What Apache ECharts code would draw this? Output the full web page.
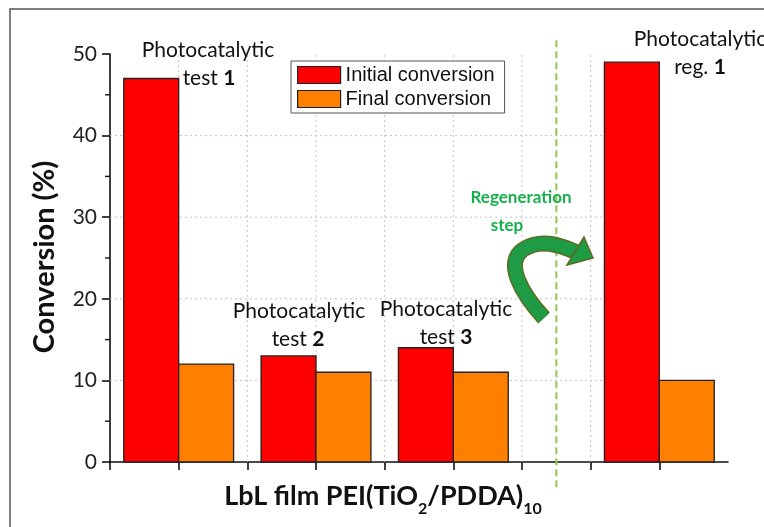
<!DOCTYPE html>
<html>
<head>
<meta charset="utf-8">
<script src="https://cdn.jsdelivr.net/npm/echarts@6/dist/echarts.min.js"></script>
<style>
html,body{margin:0;padding:0;background:#fff;}
#chart{width:764px;height:527px;}
</style>
</head>
<body>
<div id="chart"></div>
<script>
// ---- data ----
const groupNames = ['Photocatalytic test 1', 'Photocatalytic test 2', 'Photocatalytic test 3', 'Photocatalytic reg. 1'];
const initialConversion = [47, 13, 14, 49];
const finalConversion = [12, 11, 11, 10];
const seriesNames = ['Initial conversion', 'Final conversion'];
const yTickValues = [0, 10, 20, 30, 40, 50];
const yMinorTickValues = [5, 15, 25, 35, 45];
// layout: slot where each group starts on the x axis (regeneration gap before the last group)
const groupSlot = [0, 2, 4, 7];
const regenerationSlot = 6.5;
const xGridValues = [1, 2, 3, 4, 5, 6, 7];

const chart = echarts.init(document.getElementById('chart'), null, {renderer: 'canvas'});

const calibriLike = 'Lato';
const BAR_W = 0.8;

function barRenderer(offset, color) {
  return function (params, api) {
    const s = api.value(0), v = api.value(1);
    const p0 = api.coord([s + offset, v]);
    const p1 = api.coord([s + offset + BAR_W, 0]);
    return {
      type: 'rect',
      shape: {x: p0[0], y: p0[1], width: p1[0] - p0[0], height: p1[1] - p0[1]},
      style: {fill: color, stroke: '#222', lineWidth: 1.3}
    };
  };
}

const gridStyle = {stroke: '#c4c4c4', lineWidth: 1, lineDash: [2, 3]};

const arrowStroke = (z, color, w) => ([
  {type: 'bezierCurve', z: z, shape: {x1: 544, y1: 318, cpx1: 522, cpy1: 294, cpx2: 503, cpy2: 262, x2: 524, y2: 249},
    style: {fill: 'none', stroke: color, lineWidth: w, lineCap: 'butt'}},
  {type: 'bezierCurve', z: z, shape: {x1: 524, y1: 249, cpx1: 540, cpy1: 239, cpx2: 558, cpy2: 244, x2: 576, y2: 252},
    style: {fill: 'none', stroke: color, lineWidth: w, lineCap: 'butt'}}
]);

const option = {
  animation: false,
  backgroundColor: '#fff',
  grid: {left: 110, right: 36, top: 54, bottom: 65},
  xAxis: {
    type: 'value', min: 0, max: 9, interval: 1,
    axisLine: {show: true, onZero: false, lineStyle: {color: '#111', width: 1.6}},
    axisTick: {show: true, length: 8, lineStyle: {color: '#111', width: 1.6}, customValues: [0,1,2,3,4,5,6,7,8]},
    axisLabel: {show: false},
    splitLine: {show: false}
  },
  yAxis: {
    type: 'value', min: yTickValues[0], max: yTickValues[yTickValues.length - 1], interval: 10,
    axisLine: {show: true, lineStyle: {color: '#111', width: 1.6}},
    axisTick: {show: true, length: 8, lineStyle: {color: '#111', width: 1.6}},
    minorTick: {show: false},
    axisLabel: {fontFamily: calibriLike, fontSize: 21, color: '#222', margin: 13},
    splitLine: {show: false}
  },
  legend: {
    orient: 'vertical', left: 291, top: 61,
    data: seriesNames,
    icon: 'rect', itemWidth: 43, itemHeight: 17, itemGap: 4,
    padding: [4, 10, 4, 6],
    borderColor: '#555', borderWidth: 1, backgroundColor: '#fff',
    itemStyle: {borderColor: '#222', borderWidth: 1.2},
    textStyle: {fontFamily: 'Liberation Sans', fontSize: 20, color: '#111'}
  },
  series: [
    {
      name: 'hgrid', type: 'custom', z: 1, silent: true,
      encode: {x: 0, y: 1},
      data: yTickValues.filter(v => v > 0 && v < 50).map(v => [0, v]),
      renderItem: function (p, api) {
        const v = api.value(1);
        const a = api.coord([0, v]);
        const b = api.coord([groupSlot[3] + 0.2, v]);
        return {type: 'line', shape: {x1: a[0], y1: a[1], x2: b[0], y2: b[1]}, style: gridStyle};
      }
    },
    {
      name: 'vgrid', type: 'custom', z: 1, silent: true,
      encode: {x: 0, y: 1},
      data: xGridValues.map(x => [x, 0]),
      renderItem: function (p, api) {
        const x = api.value(0);
        const a = api.coord([x, 0]);
        const b = api.coord([x, 50]);
        return {type: 'line', shape: {x1: a[0], y1: a[1], x2: b[0], y2: b[1]}, style: gridStyle};
      }
    },
    {
      name: 'minorTicks', type: 'custom', z: 4, silent: true, clip: false,
      encode: {x: 0, y: 1},
      data: yMinorTickValues.map(v => [0, v]),
      renderItem: function (p, api) {
        const a = api.coord([0, api.value(1)]);
        return {type: 'line', shape: {x1: a[0] - 5, y1: a[1], x2: a[0], y2: a[1]}, style: {stroke: '#111', lineWidth: 1.4}};
      }
    },
    {
      name: seriesNames[0], type: 'custom', z: 3,
      itemStyle: {color: '#ff0000', borderColor: '#222', borderWidth: 1.2},
      encode: {x: 0, y: 1},
      data: initialConversion.map((v, i) => [groupSlot[i], v]),
      renderItem: barRenderer(0.2, '#ff0000')
    },
    {
      name: seriesNames[1], type: 'custom', z: 3,
      itemStyle: {color: '#ff8000', borderColor: '#222', borderWidth: 1.2},
      encode: {x: 0, y: 1},
      data: finalConversion.map((v, i) => [groupSlot[i], v]),
      renderItem: barRenderer(1.0, '#ff8000')
    },
    {
      name: 'regen', type: 'custom', z: 5, silent: true, clip: false,
      encode: {x: 0, y: 1},
      data: [[regenerationSlot, 0]],
      renderItem: function (p, api) {
        const x = api.value(0);
        const a = api.coord([x, 51.7]);
        const b = api.coord([x, -3.1]);
        return {type: 'line', shape: {x1: a[0], y1: a[1], x2: b[0], y2: b[1]},
          style: {stroke: '#92c74f', lineWidth: 2, lineDash: [7, 4]}};
      }
    }
  ],
  graphic: [
    {type: 'rect', z: 0, shape: {x: 10, y: 9, width: 900, height: 700}, style: {fill: 'none', stroke: '#555', lineWidth: 1.5}},
    // y axis title
    {type: 'text', z: 10, x: 45, y: 257, rotation: Math.PI / 2,
      style: {text: 'Conversion (%)', fontFamily: calibriLike, fontWeight: 'bold', fontSize: 29, fill: '#111', align: 'center', verticalAlign: 'middle'}},
    // x axis title
    {type: 'text', z: 10, x: 383, y: 496,
      style: {text: '{a|LbL film PEI(TiO}{s|2}{a|/PDDA)}{s|10}', align: 'center', verticalAlign: 'middle', fill: '#111',
        rich: {
          a: {fontFamily: calibriLike, fontWeight: 'bold', fontSize: 27, fill: '#111'},
          s: {fontFamily: calibriLike, fontWeight: 'bold', fontSize: 16, fill: '#111', padding: [26, 0, 0, 0]}
        }}},
    // annotations
    {type: 'text', z: 10, x: 208, y: 50, style: {text: 'Photocatalytic', fontFamily: calibriLike, fontSize: 21, fill: '#111', align: 'center', verticalAlign: 'middle'}},
    {type: 'text', z: 10, x: 209, y: 78, style: {text: 'test {b|1}', fontFamily: calibriLike, fontSize: 21, fill: '#111', align: 'center', verticalAlign: 'middle', rich: {b: {fontFamily: calibriLike, fontSize: 21, fontWeight: 'bold', fill: '#111'}}}},
    {type: 'text', z: 10, x: 299, y: 311, style: {text: 'Photocatalytic', fontFamily: calibriLike, fontSize: 21, fill: '#111', align: 'center', verticalAlign: 'middle'}},
    {type: 'text', z: 10, x: 298, y: 339, style: {text: 'test {b|2}', fontFamily: calibriLike, fontSize: 21, fill: '#111', align: 'center', verticalAlign: 'middle', rich: {b: {fontFamily: calibriLike, fontSize: 21, fontWeight: 'bold', fill: '#111'}}}},
    {type: 'text', z: 10, x: 446, y: 309, style: {text: 'Photocatalytic', fontFamily: calibriLike, fontSize: 21, fill: '#111', align: 'center', verticalAlign: 'middle'}},
    {type: 'text', z: 10, x: 446, y: 337, style: {text: 'test {b|3}', fontFamily: calibriLike, fontSize: 21, fill: '#111', align: 'center', verticalAlign: 'middle', rich: {b: {fontFamily: calibriLike, fontSize: 21, fontWeight: 'bold', fill: '#111'}}}},
    {type: 'text', z: 10, x: 700, y: 39, style: {text: 'Photocatalytic', fontFamily: calibriLike, fontSize: 21, fill: '#111', align: 'center', verticalAlign: 'middle'}},
    {type: 'text', z: 10, x: 700, y: 67, style: {text: 'reg. {b|1}', fontFamily: calibriLike, fontSize: 21, fill: '#111', align: 'center', verticalAlign: 'middle', rich: {b: {fontFamily: calibriLike, fontSize: 21, fontWeight: 'bold', fill: '#111'}}}},
    // regeneration step
    {type: 'text', z: 10, x: 521, y: 198, style: {text: 'Regeneration', fontFamily: calibriLike, fontWeight: 'bold', fontSize: 17, fill: '#17b04c', align: 'center', verticalAlign: 'middle'}},
    {type: 'text', z: 10, x: 507, y: 226, style: {text: 'step', fontFamily: calibriLike, fontWeight: 'bold', fontSize: 17, fill: '#17b04c', align: 'center', verticalAlign: 'middle'}}
  ].concat(arrowStroke(8, '#5d6b22', 16), arrowStroke(9, '#1f9a45', 13), [
    {type: 'polygon', z: 9, shape: {points: [[584, 237], [593, 258], [567, 265]]},
      style: {fill: '#1f9a45', stroke: '#5d6b22', lineWidth: 1.5}}
  ])
};
chart.setOption(option);
</script>
</body>
</html>
